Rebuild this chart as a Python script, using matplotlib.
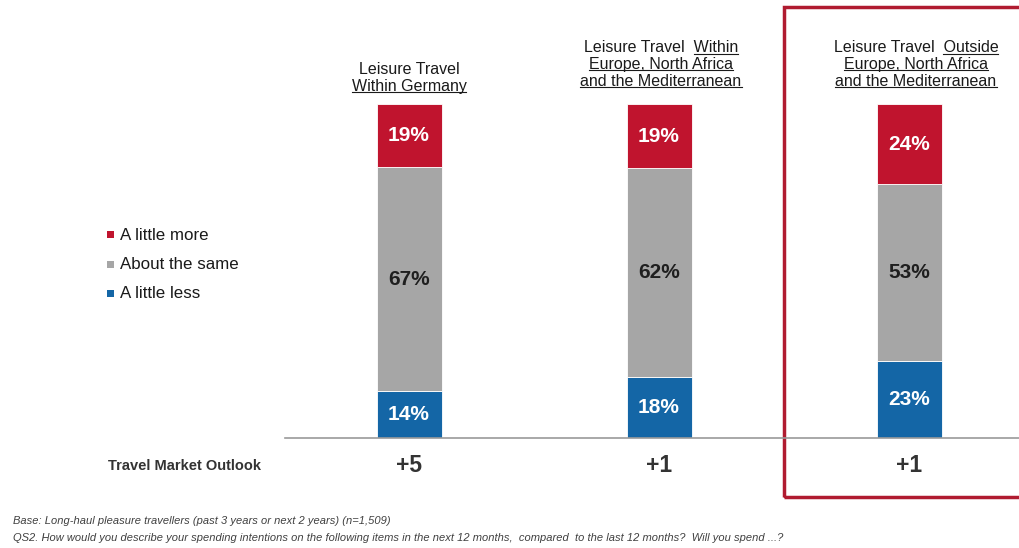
import matplotlib
matplotlib.use("Agg")
import matplotlib.pyplot as plt
from matplotlib.lines import Line2D
from matplotlib.patches import Rectangle

# ---- data ----
series_names = ["A little more", "About the same", "A little less"]
more = [19, 19, 24]
same = [67, 62, 53]
less = [14, 18, 23]
outlook = ["+5", "+1", "+1"]
headers = [
    [("Leisure Travel", None), ("Within Germany", "all")],
    [("Leisure Travel  Within", "Within"), ("Europe, North Africa", "all"), ("and the Mediterranean", "all")],
    [("Leisure Travel  Outside", "Outside"), ("Europe, North Africa", "all"), ("and the Mediterranean", "all")],
]
row_label = "Travel Market Outlook"
footnotes = [
    "Base: Long-haul pleasure travellers (past 3 years or next 2 years) (n=1,509)",
    "QS2. How would you describe your spending intentions on the following items in the next 12 months,  compared  to the last 12 months?  Will you spend ...?",
]

RED = "#c0142e"
GRAY = "#a6a6a6"
BLUE = "#1466a6"
BOX = "#b01b30"

W, H = 1019, 548
plt.rcParams['font.family'] = ['Liberation Sans', 'DejaVu Sans']
fig = plt.figure(figsize=(W / 100, H / 100), dpi=100)
fig.patch.set_facecolor("white")

def fx(px):
    return px / W

def fy(py):
    return 1 - py / H

# axes: x from px 285 to 1019, y baseline 438, 100% at 104
ax = fig.add_axes([fx(285), fy(438), fx(1019) - fx(285), (438 - 104) / H])
x = [0, 1, 2]
ax.set_xlim(-0.496, 2.44)
ax.set_ylim(0, 100)
ax.axis("off")
bw = 0.26
tot = [a + b + c for a, b, c in zip(more, same, less)]
less_n = [v / t * 100 for v, t in zip(less, tot)]
same_n = [v / t * 100 for v, t in zip(same, tot)]
more_n = [v / t * 100 for v, t in zip(more, tot)]
bottoms = [a + b for a, b in zip(less_n, same_n)]
ax.bar(x, less_n, bw, color=BLUE, edgecolor="white", linewidth=0.6)
ax.bar(x, same_n, bw, bottom=less_n, color=GRAY, edgecolor="white", linewidth=0.6)
ax.bar(x, more_n, bw, bottom=bottoms, color=RED, edgecolor="white", linewidth=0.6)

lab_fs = 15
for i in x:
    ax.text(i, less_n[i] / 2, f"{less[i]}%", ha="center", va="center", color="white",
            fontsize=lab_fs, fontweight="bold")
    ax.text(i, less_n[i] + same_n[i] / 2, f"{same[i]}%", ha="center", va="center", color="#1f1f1f",
            fontsize=lab_fs, fontweight="bold")
    ax.text(i, bottoms[i] + more_n[i] / 2, f"{more[i]}%", ha="center", va="center", color="white",
            fontsize=lab_fs, fontweight="bold")

# baseline
fig.add_artist(Line2D([fx(285), fx(1019)], [fy(438), fy(438)], color="#9a9a9a", lw=1.2))

# headers with underlines
renderer = fig.canvas.get_renderer()
hfs = 11.5
header_x = [409, 661, 916]
header_y = [[70, 87], [48, 65, 81], [48, 65, 81]]
for hi, lines in enumerate(headers):
    for li, (txt, ul) in enumerate(lines):
        cx = header_x[hi]
        cy = header_y[hi][li]
        t = fig.text(fx(cx), fy(cy), txt, ha="center", va="center", fontsize=hfs, color="#1a1a1a")
        if ul is None:
            continue
        bb = t.get_window_extent(renderer)
        if ul == "all":
            x0, x1 = bb.x0, bb.x1
        else:
            tmp = fig.text(0, 0, ul, fontsize=hfs)
            wb = tmp.get_window_extent(renderer)
            tmp.remove()
            x1 = bb.x1
            x0 = x1 - wb.width
        yline = bb.y0 + 2
        fig.add_artist(Line2D([x0 / W, x1 / W], [yline / H, yline / H], color="#1a1a1a", lw=0.8))

# legend
leg_colors = [RED, GRAY, BLUE]
leg_y = [235, 264, 293]
for name, c, ly in zip(series_names, leg_colors, leg_y):
    fig.add_artist(Rectangle((fx(107), fy(ly) - 3.5 / H), 7 / W, 7 / H, color=c, lw=0))
    fig.text(fx(120), fy(ly), name, ha="left", va="center", fontsize=12.2, color="#1a1a1a")

# outlook row
fig.text(fx(108), fy(466), row_label, ha="left", va="center", fontsize=10.5, fontweight="bold",
         color="#333333")
for i, v in enumerate(outlook):
    px = ax.transData.transform((x[i], 0))[0]
    fig.text(px / W, fy(466), v, ha="center", va="center", fontsize=16.5, fontweight="bold",
             color="#333333")

# highlight box
fig.add_artist(Rectangle((fx(784), fy(497)), fx(1030) - fx(784), (497 - 7) / H,
                         fill=False, edgecolor=BOX, lw=2.5))

# footnotes
ffs = 8
fig.text(fx(13), fy(521), footnotes[0], ha="left", va="center", fontsize=ffs, style="italic",
         color="#404040")
fig.text(fx(13), fy(538), footnotes[1], ha="left", va="center", fontsize=ffs, style="italic",
         color="#404040")

fig.savefig("out.png", dpi=100, facecolor="white")
